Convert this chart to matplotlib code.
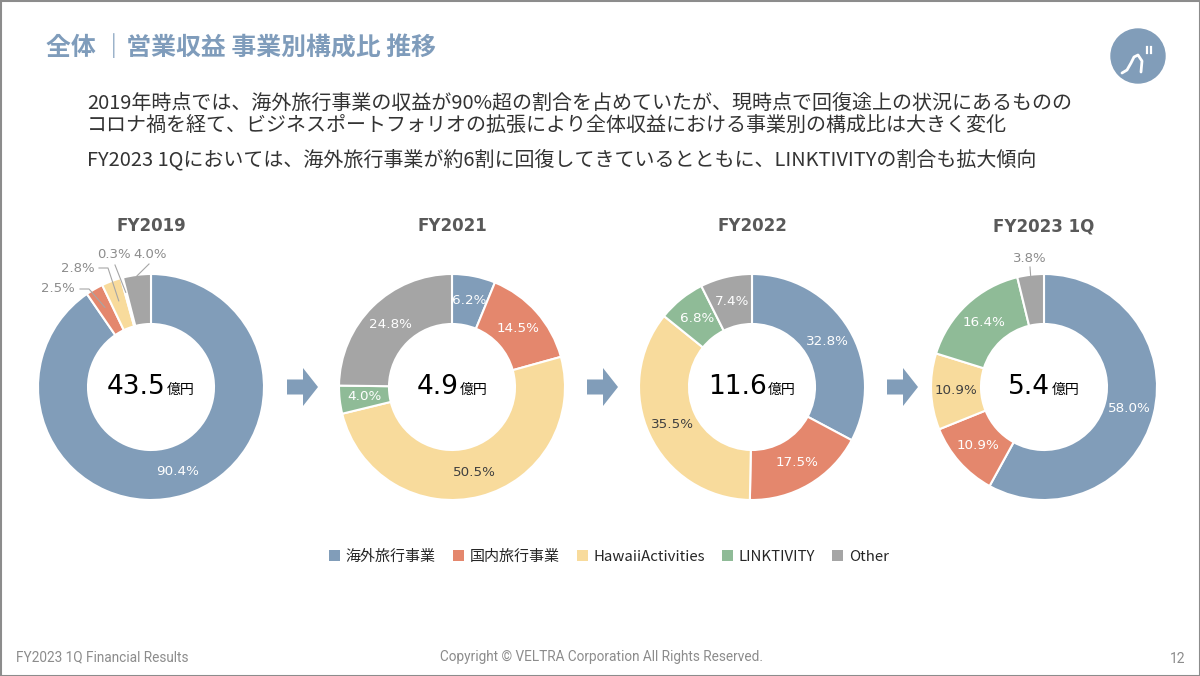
import numpy as np
import matplotlib
matplotlib.use('Agg')
import matplotlib.pyplot as plt
from matplotlib.patches import Patch, Circle, FancyArrow, Rectangle
from matplotlib.offsetbox import TextArea, HPacker, AnnotationBbox


# Periods and total operating revenue (億円)
PERIODS = ['FY2019', 'FY2021', 'FY2022', 'FY2023 1Q']
TOTALS = ['43.5', '4.9', '11.6', '5.4']

# Business segments
SEGMENTS = ['海外旅行事業', '国内旅行事業', 'HawaiiActivities', 'LINKTIVITY', 'Other']

# Share of revenue by segment (%)
SHARE_FY2019 = [90.4, 2.5, 2.8, 0.3, 4.0]
SHARE_FY2021 = [6.2, 14.5, 50.5, 4.0, 24.8]
SHARE_FY2022 = [32.8, 17.5, 35.5, 6.8, 7.4]
SHARE_FY2023 = [58.0, 10.9, 10.9, 16.4, 3.8]
SHARES = [SHARE_FY2019, SHARE_FY2021, SHARE_FY2022, SHARE_FY2023]

COLORS = ['#819db9', '#e4876d', '#f8db9c', '#8fbb97', '#a5a5a5']
LABEL_COLORS = ['white', 'white', '#404040', 'white', 'white']

JP = ['Noto Sans CJK JP', 'DejaVu Sans']

W, H = 1200, 676
CENTERS_X = [151, 452, 752, 1044]
CENTER_Y = 387
R_OUT = 113
R_IN = 63
R_LABEL = 88

# outside labels: chart index -> {slice index: (text pos, leader points, end radius)}
OUTSIDE = {
    0: {1: ((58, 289), [(80, 289), (89, 289)], 92),
        2: ((78, 268), [(99, 268), (108, 268)], 92),
        3: ((114, 255), [(115, 265)], 98),
        4: ((150, 254), [(149, 264)], 112)},
    3: {4: ((1030, 259), [(1030, 267)], 112)},
}


def Y(y):
    return H - y


def ring_point(cx, cy, frac, r):
    ang = 2 * np.pi * frac
    return cx + r * np.sin(ang), cy - r * np.cos(ang)


fig = plt.figure(figsize=(12, 6.76), dpi=100)
ax = fig.add_axes([0, 0, 1, 1])

# slide border
ax.add_patch(Rectangle((0.5, 0.5), W - 1, H - 1, fill=False,
                       edgecolor='#8c8c8c', linewidth=1.5))

# header
ax.text(46, Y(48), '全体 ｜営業収益 事業別構成比 推移', family=JP, fontsize=17.9,
        fontweight='bold', color='#7f9cbb', va='center', ha='left')
ax.add_patch(Circle((1138, Y(56)), 27, color='#819db9'))
ax.plot([1122, 1127, 1131, 1134, 1138, 1142, 1141],
        [Y(73), Y(70), Y(63), Y(57), Y(55), Y(61), Y(72)], color='white', lw=2,
        solid_capstyle='round')
ax.plot([1147, 1147], [Y(47), Y(53)], color='white', lw=1.6)
ax.plot([1151, 1151], [Y(47), Y(53)], color='white', lw=1.6)

body = [
    (103, '2019年時点では、海外旅行事業の収益が90%超の割合を占めていたが、現時点で回復途上の状況にあるものの'),
    (125, 'コロナ禍を経て、ビジネスポートフォリオの拡張により全体収益における事業別の構成比は大きく変化'),
    (160, 'FY2023 1Qにおいては、海外旅行事業が約6割に回復してきているとともに、LINKTIVITYの割合も拡大傾向'),
]
for y, line in body:
    ax.text(87, Y(y), line, family=JP, fontsize=14.4, color='#333333',
            va='center', ha='left')

# donuts
for i, (period, total, shares) in enumerate(zip(PERIODS, TOTALS, SHARES)):
    cx = CENTERS_X[i]
    ax.pie(shares, colors=COLORS, startangle=90, counterclock=False,
           radius=R_OUT, center=(cx, Y(CENTER_Y)), frame=True,
           wedgeprops=dict(width=R_OUT - R_IN, edgecolor='white', linewidth=1.5))
    ax.text(cx, Y(226), period, fontsize=12, fontweight='bold',
            color='#595959', ha='center', va='center')

    cum = np.cumsum([0] + shares[:-1]) / 100.0
    outside = OUTSIDE.get(i, {})
    for k, val in enumerate(shares):
        mid = cum[k] + val / 200.0
        lab = f'{val:.1f}%'
        if k in outside:
            (tx, ty), pts, r_end = outside[k]
            ax.text(tx, Y(ty), lab, fontsize=9.5, color='#8c8c8c',
                    ha='center', va='center')
            ex, ey = ring_point(cx, CENTER_Y, mid, r_end)
            xs = [p[0] for p in pts] + [ex]
            ys = [Y(p[1]) for p in pts] + [Y(ey)]
            ax.plot(xs, ys, color='#a6a6a6', lw=0.8)
        else:
            lx, ly = ring_point(cx, CENTER_Y, mid, R_LABEL)
            ax.text(lx, Y(ly), lab, fontsize=9.7, color=LABEL_COLORS[k],
                    ha='center', va='center')

    num = TextArea(total, textprops=dict(fontsize=19, color='black',
                                         family='DejaVu Sans'))
    unit = TextArea('億円', textprops=dict(fontsize=10, color='black', family=JP))
    pack = HPacker(children=[num, unit], align='baseline', pad=0, sep=1)
    ax.add_artist(AnnotationBbox(pack, (cx, Y(CENTER_Y)), frameon=False,
                                 box_alignment=(0.5, 0.5)))

# arrows between donuts
for x0 in [287, 587, 887]:
    ax.add_patch(FancyArrow(x0, Y(CENTER_Y), 31, 0, width=15, head_width=38,
                            head_length=15, length_includes_head=True,
                            color='#819db9', linewidth=0))

ax.set_xlim(0, W)
ax.set_ylim(0, H)
ax.set_aspect('auto')
ax.axis('off')

# legend
handles = [Patch(facecolor=c, edgecolor='none') for c in COLORS]
fig.legend(handles, SEGMENTS, loc='center', bbox_to_anchor=(609 / W, 1 - 557 / H),
           ncol=5, frameon=False, prop={'family': JP, 'size': 10.8},
           handlelength=0.75, handleheight=0.75, handletextpad=0.35,
           columnspacing=1.15, labelcolor='#262626')

# footer
ax.text(16, Y(657), 'FY2023 1Q Financial Results', family='Roboto', fontsize=9.8,
        color='#8c8c8c', ha='left', va='center')
ax.text(602, Y(657), 'Copyright © VELTRA Corporation All Rights Reserved.',
        family='Roboto', fontsize=9.8, color='#8c8c8c', ha='center', va='center')
ax.text(1185, Y(659), '12', family='Roboto', fontsize=10, color='#8c8c8c',
        ha='right', va='center')

fig.savefig('out.png', dpi=100)
